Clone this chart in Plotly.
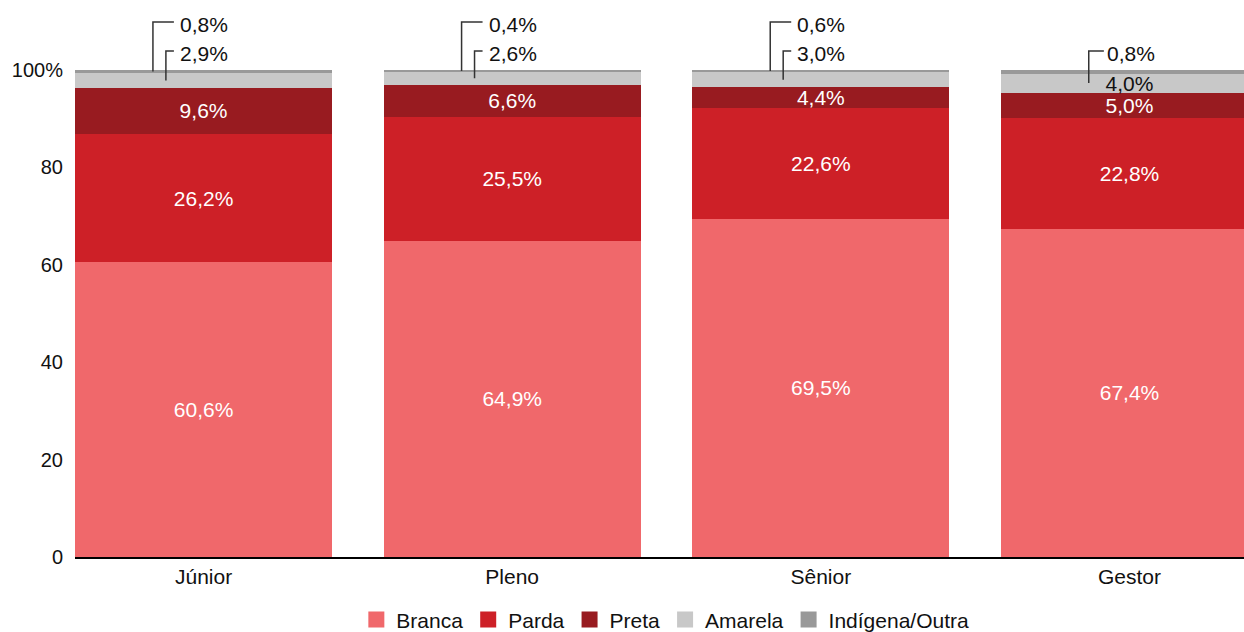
import plotly.graph_objects as go

categories = ["Júnior", "Pleno", "Sênior", "Gestor"]
series_names = ["Branca", "Parda", "Preta", "Amarela", "Indígena/Outra"]
branca = [60.6, 64.9, 69.5, 67.4]
parda = [26.2, 25.5, 22.6, 22.8]
preta = [9.6, 6.6, 4.4, 5.0]
amarela = [2.9, 2.6, 3.0, 4.0]
indigena = [0.8, 0.4, 0.6, 0.8]
y_tick_vals = [0, 20, 40, 60, 80, 100]
y_tick_text = ["0", "20", "40", "60", "80", "100%"]

colors = ["#F0686B", "#CD2027", "#981B20", "#C8C8C8", "#999999"]
series = [branca, parda, preta, amarela, indigena]

FONT = "Liberation Sans, Arial, sans-serif"
PX_PER_UNIT = 4.87
ZERO_PX = 557
TXT = "#111111"


def fmt(v):
    return f"{v:.1f}".replace(".", ",") + "%"


def y_of_px(px):
    return (ZERO_PX - px) / PX_PER_UNIT


x = list(range(len(categories)))
fig = go.Figure()

for si, (name, vals, col) in enumerate(zip(series_names, series, colors)):
    texts = []
    tcolors = []
    for ci, v in enumerate(vals):
        if si <= 2:
            texts.append(fmt(v))
            tcolors.append("white")
        elif si == 3 and categories[ci] == "Gestor":
            texts.append(fmt(v))
            tcolors.append(TXT)
        else:
            texts.append("")
            tcolors.append(TXT)
    fig.add_trace(go.Bar(
        x=x, y=vals, name=name, marker=dict(color=col, line=dict(width=0)),
        text=texts, textposition="inside", insidetextanchor="middle",
        constraintext="none", textangle=0,
        textfont=dict(color=tcolors, size=21, family=FONT),
        hoverinfo="skip", showlegend=False,
    ))

# legend entries (square swatches)
for name, col in zip(series_names, colors):
    fig.add_trace(go.Scatter(
        x=[None], y=[None], mode="markers", name=name,
        marker=dict(symbol="square", size=22, color=col, line=dict(width=0)),
        showlegend=True, hoverinfo="skip",
    ))

# leader lines and outside labels
shapes = []
annotations = []
line_style = dict(color="#333333", width=1.5)
lab_font = dict(size=21, color=TXT, family=FONT)
for ci, cat in enumerate(categories):
    cumul_preta = branca[ci] + parda[ci] + preta[ci]
    am_mid = cumul_preta + amarela[ci] / 2
    ind_mid = cumul_preta + amarela[ci] + indigena[ci] / 2
    if cat == "Gestor":
        lx = ci - 0.132
        ytop = y_of_px(51)
        yb = y_of_px(83)
        shapes.append(dict(type="path", xref="x", yref="y",
                           path=f"M{lx},{yb} L{lx},{ytop} L{ci-0.083},{ytop}",
                           line=line_style))
        annotations.append(dict(x=ci - 0.079, y=y_of_px(53), xref="x", yref="y", text=fmt(indigena[ci]),
                                showarrow=False, xanchor="left", yanchor="middle", font=lab_font))
    else:
        l1 = ci - 0.164
        l2 = ci - 0.122
        hend = ci - 0.096
        y1 = y_of_px(22)
        y2 = y_of_px(51)
        shapes.append(dict(type="path", xref="x", yref="y",
                           path=f"M{l1},{ind_mid} L{l1},{y1} L{hend},{y1}",
                           line=line_style))
        shapes.append(dict(type="path", xref="x", yref="y",
                           path=f"M{l2},{am_mid} L{l2},{y2} L{hend},{y2}",
                           line=line_style))
        annotations.append(dict(x=ci - 0.083, y=y_of_px(24), xref="x", yref="y", text=fmt(indigena[ci]),
                                showarrow=False, xanchor="left", yanchor="middle", font=lab_font))
        annotations.append(dict(x=ci - 0.083, y=y_of_px(53), xref="x", yref="y", text=fmt(amarela[ci]),
                                showarrow=False, xanchor="left", yanchor="middle", font=lab_font))

fig.update_layout(
    barmode="stack",
    bargap=0.167,
    width=1244, height=632,
    margin=dict(l=75, r=0, t=0, b=75, autoexpand=False),
    paper_bgcolor="white", plot_bgcolor="white",
    font=dict(family=FONT, size=20, color=TXT),
    shapes=shapes,
    annotations=annotations,
    showlegend=True,
    legend=dict(orientation="h", x=0.505, xanchor="center", y=-0.113, yanchor="middle",
                font=dict(size=21, family=FONT, color=TXT), traceorder="normal",
                itemsizing="trace"),
    xaxis=dict(tickvals=x, ticktext=categories, range=[-0.4165, 3.371],
               showline=True, linecolor="black", linewidth=2, showgrid=False,
               zeroline=False, ticks="", tickfont=dict(size=21)),
    yaxis=dict(range=[0, ZERO_PX / PX_PER_UNIT], tickvals=y_tick_vals, ticktext=y_tick_text,
               showgrid=False, zeroline=False, showline=False, ticks="",
               ticklabelstandoff=11, tickfont=dict(size=20)),
)

fig.write_html("out.html", config={"displayModeBar": False},
               post_script="document.body.style.margin='0';document.body.style.overflow='hidden';")
